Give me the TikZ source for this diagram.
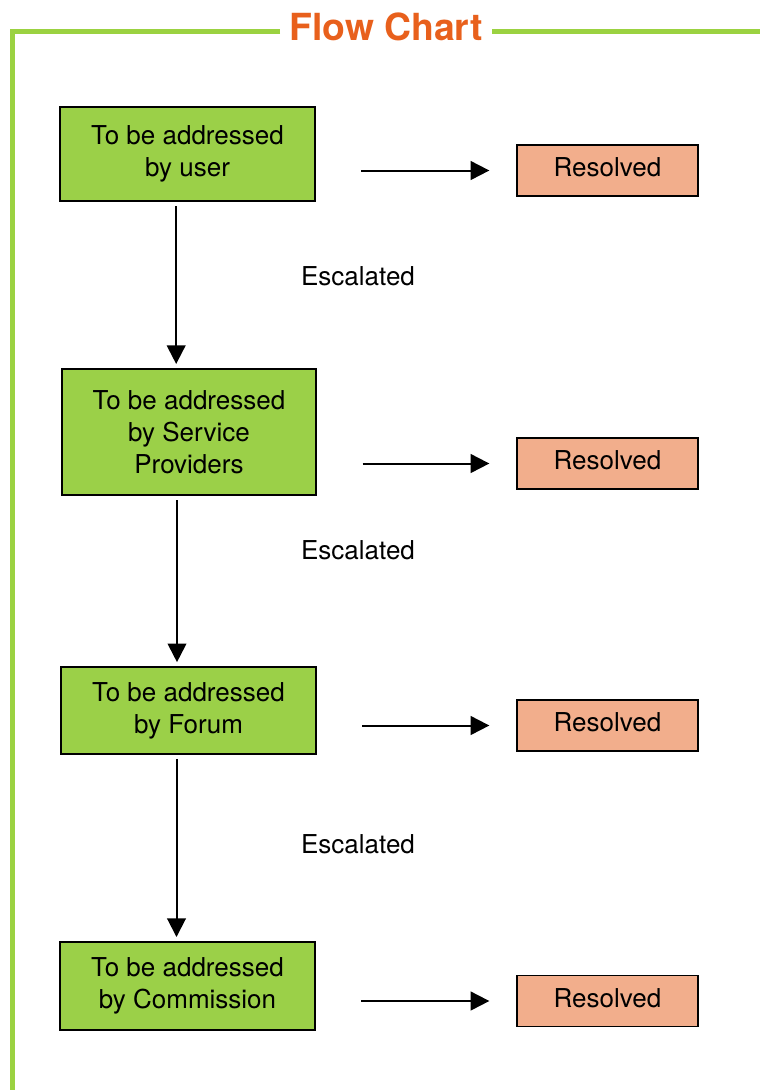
\documentclass[tikz,border=0pt]{standalone}
\usepackage{fontspec}
\setmainfont{TeX Gyre Heros}
\usetikzlibrary{arrows.meta, calc}

\begin{document}
\begin{tikzpicture}[x=0.75pt, y=-0.75pt,
    step box/.style={draw, line width=1.5pt, fill=boxgreen, align=center, inner sep=0pt,
        font=\fontsize{19.5}{24}\selectfont, minimum width=191pt},
    done box/.style={draw, line width=1.2pt, fill=boxsalmon, inner sep=0pt, text depth=4.5pt,
        font=\fontsize{19.5}{24}\selectfont, minimum width=136pt, minimum height=38pt},
    flow/.style={line width=1.5pt, -{Triangle[length=14pt, width=14pt]}},
    side/.style={flow, shorten <=34pt, shorten >=20pt},
    down/.style={flow, shorten <=3pt, shorten >=3pt}]
    \definecolor{boxgreen}{RGB}{155,208,72}
    \definecolor{boxsalmon}{RGB}{242,174,140}
    \definecolor{framegreen}{RGB}{155,210,65}
    \definecolor{titleorange}{RGB}{232,96,28}
    \useasboundingbox (0,0) rectangle (760,1090);
    % Frame and title
    \draw[framegreen, line width=3.75pt] (280,31) -| (12,1092);
    \draw[framegreen, line width=3.75pt] (492,31) -- (762,31);
    \node[text=titleorange, font=\fontsize{28}{30}\bfseries\selectfont] (title) at (386,27) {Flow Chart};
    % First row
    \node[step box, minimum height=70.5pt] (user) at (187.5,154) {To be addressed\\by user};
    \node[done box] (res1) at (607.5,170.5) {Resolved};
    \draw[side] (user.east |- res1) -- (res1);
    \node[font=\fontsize{19.5}{24}\selectfont] (esc1) at (358,276) {Escalated};
    % Second row
    \node[step box, minimum height=94.5pt] (provider) at (189,432) {To be addressed\\by Service\\Providers};
    \node[done box] (res2) at (607.5,463.5) {Resolved};
    \draw[side] (provider.east |- res2) -- (res2);
    \draw[down] ([xshift=-8.5pt]user.south) -- ([xshift=-8.5pt]user.south |- provider.north);
    \node[font=\fontsize{19.5}{24}\selectfont] (esc2) at (358,550) {Escalated};
    % Third row
    \node[step box, minimum height=65pt] (forum) at (188.5,710.5) {To be addressed\\by Forum};
    \node[done box] (res3) at (607.5,725.5) {Resolved};
    \draw[side] (forum.east |- res3) -- (res3);
    \draw[down] ([xshift=-9pt]provider.south) -- ([xshift=-9pt]provider.south |- forum.north);
    \node[font=\fontsize{19.5}{24}\selectfont] (esc3) at (358,844) {Escalated};
    % Fourth row
    \node[step box, minimum height=66pt] (commission) at (187.5,986) {To be addressed\\by Commission};
    \node[done box] (res4) at (607.5,1001) {Resolved};
    \draw[side] (commission.east |- res4) -- (res4);
    \draw[down] ([xshift=-9pt]forum.south) -- ([xshift=-9pt]forum.south |- commission.north);
\end{tikzpicture}
\end{document}
